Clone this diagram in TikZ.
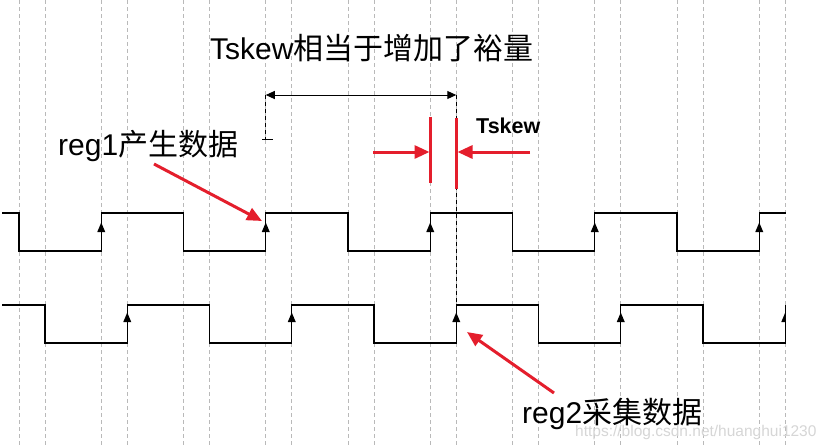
\documentclass[tikz,border=0pt]{standalone}
\usepackage{fontspec}
\setmainfont{Liberation Sans}
\newfontfamily\cjk{Noto Sans CJK SC}
\usetikzlibrary{arrows.meta}
\definecolor{arrowred}{RGB}{228,30,44}
\definecolor{gridgray}{RGB}{185,185,185}
\definecolor{wmgray}{RGB}{214,214,214}
\begin{document}
\begin{tikzpicture}[x=1pt,y=-1pt,
  wave/.style={line width=1.1pt, black},
  gridline/.style={gridgray, line width=0.8pt, dash pattern=on 4pt off 3pt},
  blackdash/.style={black, line width=0.9pt, dash pattern=on 4pt off 3pt},
  redarrow/.style={arrowred, line width=3pt, -{Triangle[length=15pt,width=13pt]}},
  redbar/.style={arrowred, line width=2.8pt},
  dimarrow/.style={black, line width=1pt, {Triangle[length=9pt,width=8pt]}-{Triangle[length=9pt,width=8pt]}},
  bigtext/.style={inner sep=0pt, font=\fontsize{30}{30}\selectfont},
  skewtext/.style={inner sep=0pt, font=\fontsize{21.5}{21.5}\selectfont\bfseries},
  wmtext/.style={inner sep=0pt, text=wmgray, font=\fontsize{15.5}{15.5}\selectfont}]
\useasboundingbox (0,0) rectangle (827,445);
\fill[white] (0,0) rectangle (827,445);
% grid lines
\foreach \k in {0,...,9} {
  \pgfmathsetmacro\xa{19+82.25*\k}
  \draw[gridline] (\xa,0) -- (\xa,445);
  \draw[gridline] (\xa+26,0) -- (\xa+26,445);
}
% clock 1
\draw[wave] (2,213) -- (19,213) -- (19,251) -- (101.25,251) -- (101.25,213) -- (183.5,213) -- (183.5,251) -- (265.75,251) -- (265.75,213) -- (348,213) -- (348,251) -- (430.25,251) -- (430.25,213) -- (512.5,213) -- (512.5,251) -- (594.75,251) -- (594.75,213) -- (677,213) -- (677,251) -- (759.25,251) -- (759.25,213) -- (786,213);
% clock 2
\draw[wave] (2,305) -- (45,305) -- (45,343) -- (127.25,343) -- (127.25,305) -- (209.5,305) -- (209.5,343) -- (291.75,343) -- (291.75,305) -- (374,305) -- (374,343) -- (456.25,343) -- (456.25,305) -- (538.5,305) -- (538.5,343) -- (620.75,343) -- (620.75,305) -- (703,305) -- (703,343) -- (785.25,343) -- (785.25,305);
% edge markers
\foreach \x in {101.25,265.75,430.25,594.75,759.25}
  \fill (\x,222.5) -- (\x-4,232) -- (\x+4,232) -- cycle;
\foreach \x in {127.25,291.75,456.25,620.75}
  \fill (\x,312.5) -- (\x-4,322) -- (\x+4,322) -- cycle;
\fill (785.25,312.5) -- (781.25,322) -- (785.25,322) -- cycle;
% coordinates
\coordinate (L) at (265.75,95);
\coordinate (R) at (456.25,95);
\coordinate (Lb) at (265.75,139);
\coordinate (tickA) at (262,139);
\coordinate (tickB) at (273,139);
\coordinate (Rb) at (456.25,305);
\coordinate (barLt) at (430.25,117);
\coordinate (barLb) at (430.25,183);
\coordinate (barRt) at (456.25,118);
\coordinate (barRb) at (456.25,189);
\coordinate (raS) at (373,152);
\coordinate (raE) at (429.5,152);
\coordinate (rbS) at (530,152);
\coordinate (rbE) at (457.5,152);
\coordinate (e1) at (262,221);
\coordinate (e2) at (467,332);
% black dimension
\draw[dimarrow] (L) -- (R);
\draw[blackdash] (L) -- (Lb);
\draw[black, line width=0.9pt] (tickA) -- (tickB);
\draw[blackdash] (R) -- (Rb);
% red bars and arrows
\draw[redbar] (barLt) -- (barLb);
\draw[redbar] (barRt) -- (barRb);
\draw[redarrow] (raS) -- (raE);
\draw[redarrow] (rbS) -- (rbE);
% texts
\node[bigtext, anchor=base west] (title) at (210,59) {Tskew{\cjk 相当于增加了裕量}};
\node[skewtext, anchor=base west] (skew) at (476,133) {Tskew};
\node[bigtext, anchor=base west] (reg1) at (58,155) {reg1{\cjk 产生数据}};
\node[bigtext, anchor=base west] (reg2) at (522,423) {reg2{\cjk 采集数据}};
\node[wmtext, anchor=base west] (wm) at (575,436) {https://blog.csdn.net/huanghui1230};
% pointer arrows
\draw[redarrow] (154,164) -- (e1);
\draw[redarrow] (554,393) -- (e2);
\end{tikzpicture}
\end{document}
